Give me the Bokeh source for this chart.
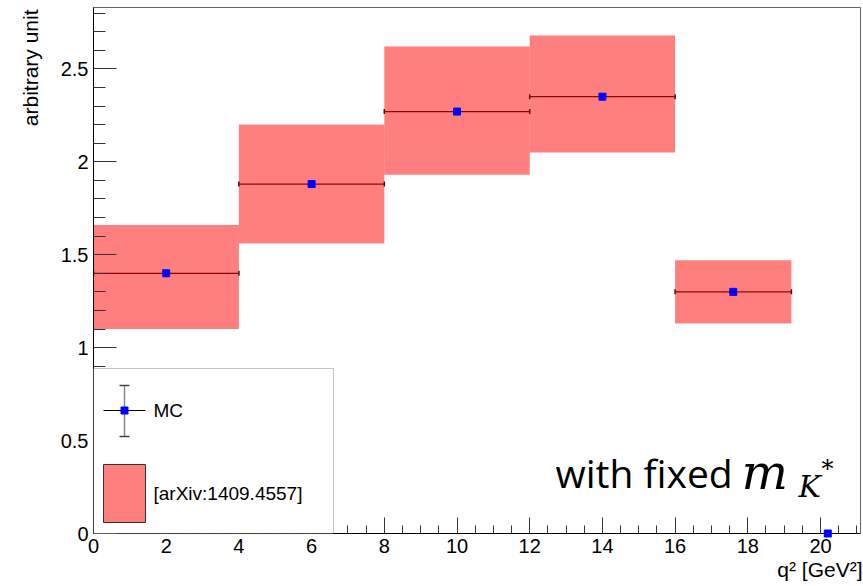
import math
from bokeh.plotting import figure
from bokeh.models import Range1d, SingleIntervalTicker, Label, BoxAnnotation, Title
from bokeh.embed import file_html
from bokeh.resources import INLINE

# Theory bands per q^2 bin [arXiv:1409.4557]
bin_lo = [0, 4, 8, 12, 16]
bin_hi = [4, 8, 12, 16, 19.2]
band_lo = [1.10, 1.56, 1.93, 2.05, 1.13]
band_hi = [1.66, 2.20, 2.62, 2.68, 1.47]

# MC points: bin centre, value, half bin width
mc_q2 = [2, 6, 10, 14, 17.6, 20.2]
mc_val = [1.40, 1.88, 2.27, 2.35, 1.30, 0.0]
mc_xerr = [2, 2, 2, 2, 1.6, 0.0]

y_tick_values = [0, 0.5, 1, 1.5, 2, 2.5]
y_tick_labels = ["0", "0.5", "1", "1.5", "2", "2.5"]

X0, X1 = 0.0, 21.1
Y0, Y1 = 0.0, 2.83
W, H = 863, 586
LEFT, RIGHT, TOP, BOTTOM = 93, 860, 7, 533

FONT = "Liberation Sans"


def px_x(px):
    # canvas pixel column -> data x
    return X0 + (px - LEFT) / (RIGHT - LEFT) * (X1 - X0)


def px_y(py):
    # canvas pixel row -> data y
    return Y0 + (BOTTOM - py) / (BOTTOM - TOP) * (Y1 - Y0)


p = figure(width=W, height=H, x_range=Range1d(X0, X1), y_range=Range1d(Y0, Y1),
           output_backend="svg", toolbar_location=None,
           min_border_left=LEFT, min_border_right=W - RIGHT,
           min_border_top=TOP, min_border_bottom=H - BOTTOM)
p.background_fill_color = "white"
p.border_fill_color = "white"
p.outline_line_color = "#666666"
p.grid.visible = False

# axes in ROOT style: ticks pointing inward
p.xaxis.ticker = SingleIntervalTicker(interval=2, num_minor_ticks=4)
p.yaxis.ticker = SingleIntervalTicker(interval=0.5, num_minor_ticks=5)
p.yaxis.major_label_overrides = dict(zip(y_tick_values, y_tick_labels))
for ax, tin, mtin in ((p.xaxis, 16, 8), (p.yaxis, 23, 12)):
    ax.major_tick_in = tin
    ax.major_tick_out = 0
    ax.minor_tick_in = mtin
    ax.minor_tick_out = 0
    ax.axis_line_color = "black"
    ax.major_tick_line_color = "#333333"
    ax.minor_tick_line_color = "#333333"
    ax.major_label_text_font = FONT
    ax.major_label_text_font_size = "20px"
    ax.major_label_text_color = "black"
p.xaxis.major_label_standoff = 5
p.yaxis.major_label_standoff = 5

# axis titles, right-aligned at the far end of each axis
p.add_layout(Title(text="q\u00b2 [GeV\u00b2]", align="right", text_font=FONT,
                   text_font_size="21px", text_font_style="normal", text_color="black",
                   standoff=0, offset=-2), "below")
p.add_layout(Title(text="arbitrary unit", align="right", text_font=FONT,
                   text_font_size="21px", text_font_style="normal", text_color="black",
                   standoff=31, offset=2), "left")

# MC horizontal error bars (drawn below the bands)
seg_x0 = [c - e for c, e in zip(mc_q2, mc_xerr) if e > 0]
seg_x1 = [c + e for c, e in zip(mc_q2, mc_xerr) if e > 0]
seg_y = [v for v, e in zip(mc_val, mc_xerr) if e > 0]
p.segment(x0=seg_x0, y0=seg_y, x1=seg_x1, y1=seg_y, line_color="#111111", line_width=1.3)
p.scatter(x=seg_x0 + seg_x1, y=seg_y + seg_y, marker="dash", angle=math.pi / 2,
          size=5, line_color="#111111", line_width=1.5)

# theory bands
p.quad(left=bin_lo, right=bin_hi, bottom=band_lo, top=band_hi,
       fill_color="#ff0000", fill_alpha=0.5, line_color=None)

# MC markers
p.scatter(x=mc_q2, y=mc_val, marker="square", size=7, fill_color="#0000ff",
          line_color="#0000ff", level="overlay")

# legend
p.add_layout(BoxAnnotation(left=px_x(LEFT), right=px_x(333), bottom=px_y(BOTTOM), top=px_y(368),
                           fill_color="white", fill_alpha=1.0, line_color="#444444", line_width=1))
p.segment(x0=[px_x(124)], y0=[px_y(385)], x1=[px_x(124)], y1=[px_y(436)],
          line_color="#888888", line_width=1.5, level="overlay")
p.scatter(x=[px_x(124), px_x(124)], y=[px_y(385), px_y(436)], marker="dash", size=10,
          line_color="#444444", line_width=1.5, level="overlay")
p.segment(x0=[px_x(103)], y0=[px_y(410)], x1=[px_x(145)], y1=[px_y(410)],
          line_color="black", line_width=1, level="overlay")
p.scatter(x=[px_x(124)], y=[px_y(410)], marker="square", size=7, fill_color="#0000ff",
          line_color="#0000ff", level="overlay")
p.quad(left=[px_x(103)], right=[px_x(145)], bottom=[px_y(522)], top=[px_y(464)],
       fill_color="#ff0000", fill_alpha=0.5, line_color="#333333", line_width=1, level="overlay")
p.add_layout(Label(x=px_x(153), y=px_y(410), text="MC", text_font=FONT, text_color="black",
                   text_font_size="19px", text_baseline="middle", text_align="left"))
p.add_layout(Label(x=px_x(153), y=px_y(493), text="[arXiv:1409.4557]", text_font=FONT,
                   text_color="black", text_font_size="19px", text_baseline="middle",
                   text_align="left"))

# annotation: with fixed m_{K*}
p.add_layout(Label(x=px_x(555), y=px_y(472), text="with fixed", text_font="Open Sans",
                   text_color="black", text_font_size="39px", text_baseline="alphabetic",
                   text_align="left"))
p.add_layout(Label(x=px_x(741), y=px_y(472), text="m", text_font="DejaVu Serif",
                   text_color="black", text_font_style="italic", text_font_size="49px",
                   text_baseline="alphabetic", text_align="left"))
p.add_layout(Label(x=px_x(798), y=px_y(486), text="K", text_font="DejaVu Serif",
                   text_color="black", text_font_style="italic", text_font_size="30px",
                   text_baseline="alphabetic", text_align="left"))
p.add_layout(Label(x=px_x(821), y=px_y(468), text="*", text_font="DejaVu Serif",
                   text_color="black", text_font_size="24px", text_baseline="alphabetic",
                   text_align="left"))

open("out.html", "w").write(file_html(p, INLINE))
